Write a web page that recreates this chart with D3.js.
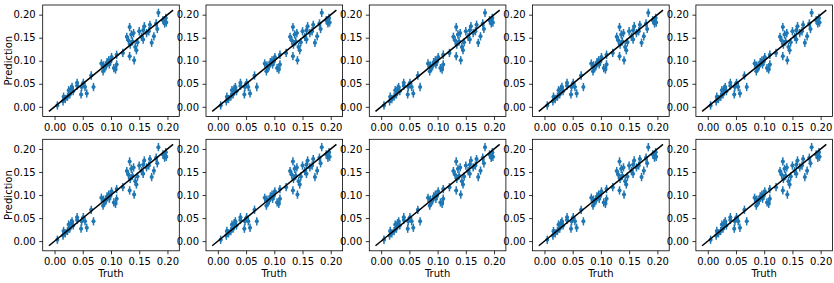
<!DOCTYPE html>
<html>
<head>
<meta charset="utf-8">
<script src="https://cdn.jsdelivr.net/npm/d3@7"></script>
<style>
  body { margin: 0; background: #fff; }
  svg { display: block; font-family: "DejaVu Sans", sans-serif; }
</style>
</head>
<body>
<div id="chart"></div>
<script>
// truth / prediction pairs (same for every panel)
const truth = [0.005, 0.015, 0.016, 0.019, 0.023, 0.027, 0.029, 0.031, 0.033, 0.040,
  0.040, 0.047, 0.048, 0.051, 0.054, 0.057, 0.065, 0.069,
  0.083, 0.086, 0.089, 0.091, 0.093, 0.096, 0.097, 0.101, 0.105, 0.108, 0.110, 0.110, 0.121,
  0.128, 0.131, 0.133, 0.133, 0.134, 0.136, 0.138, 0.140, 0.141, 0.143, 0.145,
  0.150, 0.154, 0.157, 0.159, 0.157, 0.167, 0.169, 0.172, 0.176, 0.180, 0.184, 0.182,
  0.192, 0.195, 0.198, 0.197, 0.025, 0.087, 0.099, 0.147, 0.163];
const prediction = [0.003, 0.012, 0.022, 0.017, 0.022, 0.027, 0.039, 0.043, 0.034, 0.046,
  0.052, 0.027, 0.043, 0.052, 0.043, 0.029, 0.068, 0.043,
  0.094, 0.077, 0.084, 0.088, 0.097, 0.101, 0.092, 0.108, 0.084, 0.081, 0.092, 0.113, 0.117,
  0.152, 0.144, 0.173, 0.110, 0.135, 0.157, 0.142, 0.160, 0.101, 0.130, 0.123,
  0.164, 0.152, 0.166, 0.175, 0.146, 0.164, 0.178, 0.139, 0.153, 0.181, 0.204, 0.169,
  0.188, 0.181, 0.183, 0.193, 0.036, 0.090, 0.098, 0.140, 0.160];
const xErr = 0.003;
const yErr = 0.009;
const tickValues = [0, 0.05, 0.10, 0.15, 0.20];
const lineEnds = [-0.01, 0.21];
const nRows = 2, nCols = 5;
const xLabel = "Truth", yLabel = "Prediction";

const W = 834, H = 283;
const panelW = 136.6, panelH = 111.5;
const left0 = 42.7, colStep = 163.3;
const tops = [5, 139.3];
const blue = "#1f77b4";

const svg = d3.select("#chart").append("svg")
  .attr("width", W).attr("height", H);

const x = d3.scaleLinear().domain([-0.021, 0.221]).range([0, panelW]);
const y = d3.scaleLinear().domain([-0.021, 0.221]).range([panelH, 0]);

const pts = truth.map((t, i) => ({ t, p: prediction[i] }));

for (let r = 0; r < nRows; r++) {
  for (let c = 0; c < nCols; c++) {
    const g = svg.append("g")
      .attr("transform", `translate(${left0 + c * colStep},${tops[r]})`);

    // error bars
    const eb = g.append("g").selectAll("g").data(pts).join("g");
    eb.append("line")
      .attr("x1", d => x(d.t)).attr("x2", d => x(d.t))
      .attr("y1", d => y(d.p - yErr)).attr("y2", d => y(d.p + yErr))
      .attr("stroke", blue).attr("stroke-width", 1.5);
    eb.append("line")
      .attr("x1", d => x(d.t - xErr)).attr("x2", d => x(d.t + xErr))
      .attr("y1", d => y(d.p)).attr("y2", d => y(d.p))
      .attr("stroke", blue).attr("stroke-width", 1.5);
    eb.append("circle")
      .attr("cx", d => x(d.t)).attr("cy", d => y(d.p))
      .attr("r", 2).attr("fill", blue);

    // identity line
    g.append("line")
      .attr("x1", x(lineEnds[0])).attr("y1", y(lineEnds[0]))
      .attr("x2", x(lineEnds[1])).attr("y2", y(lineEnds[1]))
      .attr("stroke", "#000").attr("stroke-width", 1.5);

    // axes
    const xa = g.append("g").attr("transform", `translate(0,${panelH})`)
      .call(d3.axisBottom(x).tickValues(tickValues).tickFormat(d3.format(".2f"))
        .tickSize(3.5).tickPadding(3.5).tickSizeOuter(0));
    const ya = g.append("g")
      .call(d3.axisLeft(y).tickValues(tickValues).tickFormat(d3.format(".2f"))
        .tickSize(3.5).tickPadding(3.5).tickSizeOuter(0));
    [xa, ya].forEach(a => {
      a.select(".domain").remove();
      a.selectAll("text").attr("font-size", 10).attr("font-family", "DejaVu Sans").attr("fill", "#000");
      a.selectAll("line").attr("stroke", "#000").attr("stroke-width", 0.8);
    });

    g.append("rect")
      .attr("width", panelW).attr("height", panelH)
      .attr("fill", "none").attr("stroke", "#000").attr("stroke-width", 0.8);

    if (c === 0) {
      g.append("text")
        .attr("transform", `translate(${-31},${panelH / 2}) rotate(-90)`)
        .attr("text-anchor", "middle")
        .attr("font-size", 10)
        .text(yLabel);
    }
    if (r === nRows - 1) {
      g.append("text")
        .attr("x", panelW / 2).attr("y", panelH + 26)
        .attr("text-anchor", "middle")
        .attr("font-size", 10)
        .text(xLabel);
    }
  }
}
</script>
</body>
</html>
